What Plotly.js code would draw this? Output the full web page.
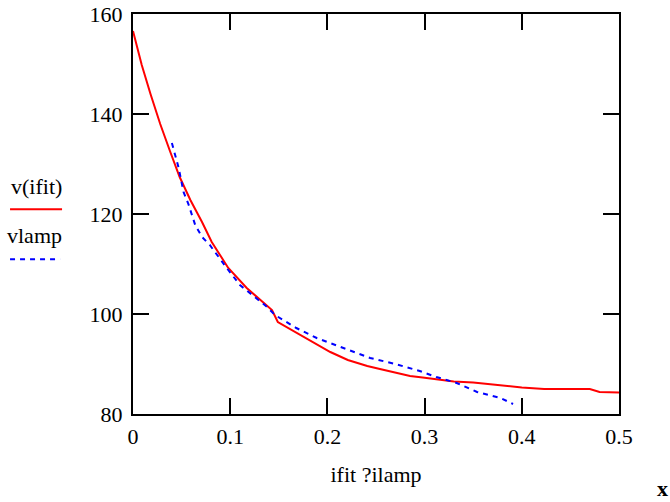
<!DOCTYPE html>
<html>
<head>
<meta charset="utf-8">
<script src="https://cdn.plot.ly/plotly-3.0.1.min.js"></script>
<style>html,body{margin:0;padding:0;background:#fff;}#chart{width:670px;height:502px;}</style>
</head>
<body>
<div id="chart"></div>
<script>
// v(ifit) — fitted curve
const fitX = [0, 0.009, 0.018, 0.028, 0.038, 0.048, 0.059, 0.071, 0.081, 0.098, 0.117, 0.134, 0.143, 0.149, 0.158, 0.172, 0.182, 0.203, 0.221, 0.241, 0.254, 0.27, 0.285, 0.298, 0.31, 0.33, 0.35, 0.37, 0.4, 0.423, 0.47, 0.48, 0.5];
const fitY = [156.6, 149.8, 144.0, 138.0, 132.6, 127.4, 122.8, 118.4, 114.4, 109.2, 105.2, 102.2, 100.8, 98.4, 97.4, 95.8, 94.8, 92.4, 90.8, 89.6, 89.0, 88.3, 87.6, 87.3, 87.0, 86.5, 86.3, 85.9, 85.3, 85.0, 85.0, 84.4, 84.3];
// vlamp — measured
const lampX = [0.040, 0.047, 0.052, 0.057, 0.064, 0.071, 0.079, 0.088, 0.098, 0.110, 0.123, 0.138, 0.146, 0.168, 0.189, 0.213, 0.244, 0.270, 0.295, 0.312, 0.333, 0.354, 0.378, 0.391];
const lampY = [134.2, 129.2, 124.4, 122.0, 117.8, 115.4, 113.8, 111.4, 108.8, 105.8, 103.8, 101.4, 99.8, 97.2, 95.2, 93.4, 91.2, 90.0, 88.6, 87.4, 86.2, 84.4, 83.2, 82.0];
const seriesNames = ["v(ifit)", "vlamp"];
const xTitle = "ifit ?ilamp";

const font = {family: "Liberation Serif, Times New Roman, serif", size: 22, color: "#000"};

const traces = [
  {x: fitX, y: fitY, mode: "lines", name: seriesNames[0], line: {color: "#ff0000", width: 2}},
  {x: lampX, y: lampY, mode: "lines", name: seriesNames[1], line: {color: "#0000ff", width: 2, dash: "5px,5px"}}
];

const axisCommon = {
  showgrid: false, zeroline: false, showline: true, linecolor: "#000", linewidth: 2,
  mirror: "ticks", ticks: "inside", ticklen: 16, tickwidth: 2, tickcolor: "#000",
  tickfont: font
};

const layout = {
  width: 670, height: 502,
  margin: {l: 133, r: 51, t: 14, b: 88},
  paper_bgcolor: "#fff", plot_bgcolor: "#fff",
  showlegend: false,
  font: font,
  xaxis: Object.assign({}, axisCommon, {range: [0, 0.5], dtick: 0.1, tick0: 0,
    ticklabelstandoff: 2,
    title: {text: xTitle, font: font, standoff: 18}}),
  yaxis: Object.assign({}, axisCommon, {range: [80, 160], dtick: 20, tick0: 80, ticklabelstandoff: 4}),
  annotations: [
    {text: seriesNames[0], xref: "paper", yref: "paper", x: -0.198, y: 0.57, xanchor: "center", yanchor: "middle", showarrow: false, font: font},
    {text: seriesNames[1], xref: "paper", yref: "paper", x: -0.202, y: 0.445, xanchor: "center", yanchor: "middle", showarrow: false, font: font},
    {text: "<b>x</b>", xref: "paper", yref: "paper", x: 1.09, y: -0.185, xanchor: "center", yanchor: "middle", showarrow: false, font: font}
  ],
  shapes: [
    {type: "line", xref: "paper", yref: "paper", x0: -0.253, x1: -0.146, y0: 0.512, y1: 0.512, line: {color: "#ff0000", width: 2}},
    {type: "line", xref: "paper", yref: "paper", x0: -0.253, x1: -0.150, y0: 0.387, y1: 0.387, line: {color: "#0000ff", width: 2, dash: "5px,5px"}}
  ]
};

Plotly.newPlot("chart", traces, layout, {displayModeBar: false, staticPlot: true});
</script>
</body>
</html>
